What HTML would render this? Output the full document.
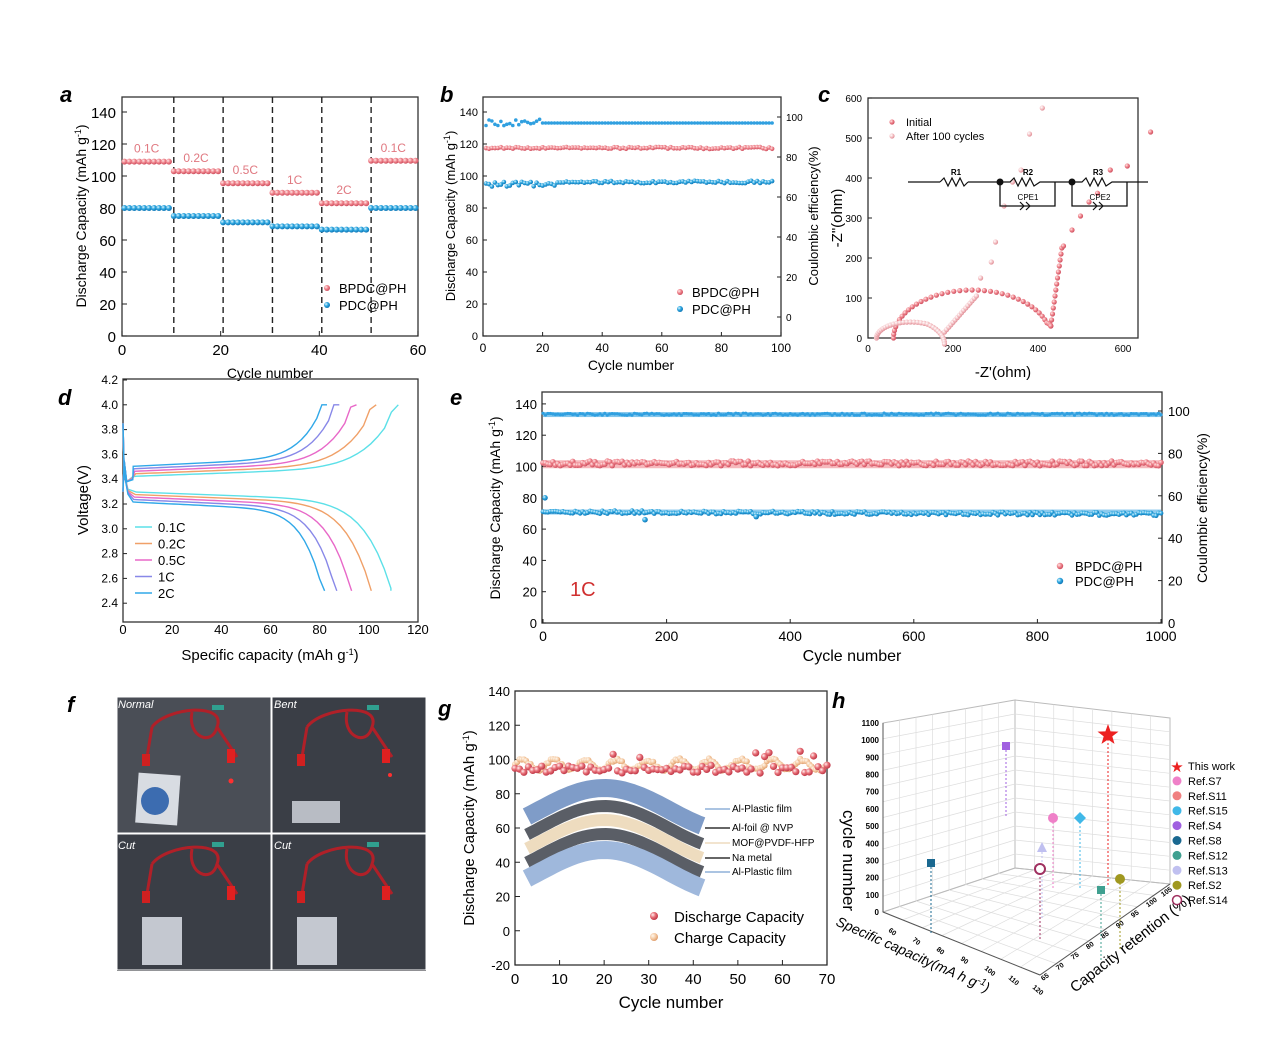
<!DOCTYPE html>
<html><head><meta charset="utf-8"><style>
html,body{margin:0;padding:0;background:#fff}
svg{display:block;font-family:"Liberation Sans",Arial,sans-serif}
</style></head><body>
<svg id="s" width="1272" height="1043" viewBox="0 0 1272 1043" xmlns="http://www.w3.org/2000/svg">
<defs>
<radialGradient id="gp" cx="35%" cy="35%" r="65%"><stop offset="0" stop-color="#ffe8e8"/><stop offset="0.5" stop-color="#f08890"/><stop offset="1" stop-color="#d05060"/></radialGradient>
<radialGradient id="gb" cx="35%" cy="35%" r="65%"><stop offset="0" stop-color="#e0f6ff"/><stop offset="0.5" stop-color="#30a8e0"/><stop offset="1" stop-color="#1078b8"/></radialGradient>
<radialGradient id="gr" cx="35%" cy="35%" r="65%"><stop offset="0" stop-color="#fff0f0"/><stop offset="0.5" stop-color="#e87078"/><stop offset="1" stop-color="#c03848"/></radialGradient>
<radialGradient id="go" cx="35%" cy="35%" r="65%"><stop offset="0" stop-color="#fff8ee"/><stop offset="0.6" stop-color="#f4c8a0"/><stop offset="1" stop-color="#e0a070"/></radialGradient>
<radialGradient id="gl" cx="35%" cy="35%" r="65%"><stop offset="0" stop-color="#fff"/><stop offset="0.6" stop-color="#f4c0c4"/><stop offset="1" stop-color="#e09098"/></radialGradient>
<radialGradient id="ph" cx="40%" cy="45%" r="70%"><stop offset="0" stop-color="#8a8f98"/><stop offset="0.6" stop-color="#3c4048"/><stop offset="1" stop-color="#202228"/></radialGradient>
</defs>
<g id="root"></g>
</svg>
<script>
const R=document.getElementById('root');let h='';
function t(x,y,s,sz,o){o=o||{};h+=`<text x="${x}" y="${y}" font-size="${sz}" ${o.a?`text-anchor="${o.a}"`:''} ${o.f?`fill="${o.f}"`:''} ${o.b?'font-weight="bold"':''} ${o.i?'font-style="italic"':''} ${o.r?`transform="rotate(${o.r} ${x} ${y})"`:''}>${s}</text>`;}
function L(x1,y1,x2,y2,c,w,d){h+=`<line x1="${x1}" y1="${y1}" x2="${x2}" y2="${y2}" stroke="${c||'#222'}" stroke-width="${w||1}" ${d?`stroke-dasharray="${d}"`:''}/>`;}
function box(x1,y1,x2,y2){h+=`<rect x="${x1}" y="${y1}" width="${x2-x1}" height="${y2-y1}" fill="none" stroke="#333" stroke-width="1.3"/>`;}
function c(x,y,r,f){h+=`<circle cx="${x.toFixed(1)}" cy="${y.toFixed(1)}" r="${r}" fill="${f}"/>`;}
function P(pts,col,w){h+=`<polyline points="${pts.map(p=>p[0].toFixed(1)+','+p[1].toFixed(1)).join(' ')}" fill="none" stroke="${col}" stroke-width="${w||1.5}"/>`;}
function rnd(i){let x=Math.sin(i*12.9898+7.1)*43758.5;return x-Math.floor(x);}
// ---------- a
box(122,97,418,336);
for(let v=0;v<=140;v+=20){let y=336-v*1.6;L(122,y,127,y);t(116,y+6,v,15,{a:'end'});}
for(let v=0;v<=60;v+=20){let x=122+v*4.933;L(x,336,x,331);t(x,355,v,15,{a:'middle'});}
t(270,378,'Cycle number',14,{a:'middle'});
t(86,216,'Discharge Capacity (mAh g<tspan dy="-5" font-size="9">-1</tspan><tspan dy="5">)</tspan>',14,{a:'middle',r:-90});
t(60,102,'a',22,{b:1,i:1});
[10.5,20.5,30.5,40.5,50.5].forEach(v=>{let x=122+v*4.933;L(x,97,x,336,'#222',1.4,'6,4');});
const A=[[1,10,109,80],[11,20,103,75],[21,30,95.5,71],[31,40,89.5,68.5],[41,50,83,66.5],[51,60,109.5,80]];
const lab=['0.1C','0.2C','0.5C','1C','2C','0.1C'];
A.forEach((s,k)=>{for(let i=s[0];i<=s[1];i++){let x=122+(i-0.5)*4.933;c(x,336-s[2]*1.6,3,'url(#gp)');c(x,336-s[3]*1.6,3,'url(#gb)');}
 t(122+((s[0]+s[1])/2-0.5)*4.933,336-s[2]*1.6-9,lab[k],12,{a:'middle',f:'#e07880'});});
c(327,288,3,'url(#gp)');t(339,293,'BPDC@PH',13);c(327,305,3,'url(#gb)');t(339,310,'PDC@PH',13);
// ---------- b
box(483,97,781,336);
for(let v=0;v<=140;v+=20){let y=336-v*1.6;L(483,y,487,y);t(478,y+4,v,11,{a:'end'});}
for(let v=0;v<=100;v+=20){let x=483+v*2.98;L(x,336,x,332);t(x,352,v,12,{a:'middle'});t(786,317-v*2+4,v,10);L(781,317-v*2,777,317-v*2);}
t(631,370,'Cycle number',14,{a:'middle'});
t(455,216,'Discharge Capacity (mAh g<tspan dy="-5" font-size="9">-1</tspan><tspan dy="5">)</tspan>',13,{a:'middle',r:-90});
t(818,216,'Coulombic efficiency(%)',13,{a:'middle',r:-90});
t(440,102,'b',22,{b:1,i:1});
for(let i=1;i<=97;i++){let x=483+i*2.98;c(x,336-117.5*1.6+(rnd(i)-.5)*2,2.3,'url(#gp)');let b=i<25?93+rnd(i+3)*4:95.5+rnd(i+5)*1.5;c(x,336-b*1.6,2.3,'url(#gb)');c(x,317-97*2+(i<20?(rnd(i+9)-.5)*8:0),1.8,'#30a0e0');}
c(680,292,3,'url(#gp)');t(692,297,'BPDC@PH',13);c(680,309,3,'url(#gb)');t(692,314,'PDC@PH',13);
// ---------- c
box(868,98,1138,338);
const cx=v=>868+v*0.425, cy=v=>338-v*0.4;
for(let v=0;v<=600;v+=100){L(868,cy(v),872,cy(v));t(862,cy(v)+4,v,10,{a:'end'});}
for(let v=0;v<=600;v+=200){t(cx(v),352,v,10,{a:'middle'});}
t(1003,377,"-Z'(ohm)",15,{a:'middle'});t(842,218,'-Z"(ohm)',15,{a:'middle',r:-90});
t(818,102,'c',22,{b:1,i:1});
for(let k=0;k<=40;k++){let a=Math.PI*k/40;let X=245-185*Math.cos(a),Y=120*Math.sin(a);if(k>30)Y=Math.max(Y,30+ (40-k)*2);c(cx(X),cy(Y),2.6,'url(#gp)');}
for(let k=0;k<14;k++){c(cx(430+k*2),cy(30+k*15),2.6,'url(#gp)');}
[[460,230],[480,270],[500,305],[520,340],[540,362],[570,420],[610,430],[665,515]].forEach(p=>c(cx(p[0]),cy(p[1]),2.6,'url(#gp)'));
for(let k=0;k<=30;k++){let a=Math.PI*k/30;c(cx(100-80*Math.cos(a)),cy(40*Math.sin(a)+ (k>20?(k-20)*-1.5:0)),2.6,'url(#gl)');}
for(let k=0;k<16;k++){c(cx(180+k*5),cy(15+k*6),2.6,'url(#gl)');}
[[265,150],[290,190],[300,240],[320,330],[340,390],[360,420],[380,510],[410,575]].forEach(p=>c(cx(p[0]),cy(p[1]),2.6,'url(#gl)'));
c(892,122,2.6,'url(#gp)');t(906,126,'Initial',11);c(892,136,2.6,'url(#gl)');t(906,140,'After 100 cycles',11);
L(908,182,940,182,'#111',1.3);P([[940,182],[944,178],[948,186],[952,178],[956,186],[960,178],[964,186],[968,182]],'#111',1.2);L(968,182,1000,182,'#111',1.3);
c(1000,182,3.5,'#111');P([[1000,182],[1010,182],[1014,178],[1018,186],[1022,178],[1026,186],[1030,178],[1034,186],[1040,182],[1055,182]],'#111',1.2);
h+=`<polyline points="1000,182 1000,206 1055,206 1055,182" fill="none" stroke="#111" stroke-width="1.3"/>`;
L(1055,182,1072,182,'#111',1.3);c(1072,182,3.5,'#111');
P([[1072,182],[1082,182],[1086,178],[1090,186],[1094,178],[1098,186],[1102,178],[1106,186],[1112,182],[1127,182]],'#111',1.2);
h+=`<polyline points="1072,182 1072,206 1127,206 1127,182" fill="none" stroke="#111" stroke-width="1.3"/>`;L(1127,182,1148,182,'#111',1.3);
t(956,175,'R1',8,{a:'middle',b:1});t(1028,175,'R2',8,{a:'middle',b:1});t(1098,175,'R3',8,{a:'middle',b:1});t(1028,200,'CPE1',8,{a:'middle'});t(1100,200,'CPE2',8,{a:'middle'});
P([[1020,202],[1024,206],[1020,210]],'#111',1.2);P([[1026,202],[1030,206],[1026,210]],'#111',1.2);P([[1093,202],[1097,206],[1093,210]],'#111',1.2);P([[1099,202],[1103,206],[1099,210]],'#111',1.2);
// ---------- d
box(123,379,418,622);
const dx=v=>123+v*2.458, dy=v=>380+(4.2-v)*124;
for(let v=2.4;v<=4.21;v+=0.2){L(123,dy(v),127,dy(v));t(118,dy(v)+4,v.toFixed(1),12,{a:'end'});}
for(let v=0;v<=120;v+=20){t(dx(v),634,v,13,{a:'middle'});}
t(270,660,'Specific capacity (mAh g<tspan dy="-5" font-size="9">-1</tspan><tspan dy="5">)</tspan>',15,{a:'middle'});
t(88,500,'Voltage(V)',15,{a:'middle',r:-90});t(58,405,'d',22,{b:1,i:1});
const cols=['#5ce0e8','#f0a068','#e868c8','#8888e8','#30a8e8'];const Q=[112,103,95,88,83];const Qd=[109,101,93,87,82];
cols.forEach((col,k)=>{let q=Q[k],pts=[[0,3.3],[0.5,3.55],[1.5,3.38],[4,3.42-k*0.006]];for(let f=0.05;f<=1.0001;f+=0.025){let x=q*f;let v=3.42+k*0.02+0.08*f+0.5*Math.pow(f,9);if(f>0.96)v+= (f-0.96)*3;pts.push([x,Math.min(4.0,v)]);}pts.push([q,4.0]);P(pts.map(p=>[dx(p[0]),dy(p[1])]),col,1.4);
 let qd=Qd[k],pd=[[0,3.85],[0.5,3.45],[2,3.32-k*0.01]];for(let f=0.05;f<=1.0001;f+=0.025){let v=3.3-k*0.02-0.08*f-0.7*Math.pow(f,10);pd.push([qd*f,Math.max(2.5,v)]);}pd.push([qd,2.5]);P(pd.map(p=>[dx(p[0]),dy(p[1])]),col,1.4);});
['0.1C','0.2C','0.5C','1C','2C'].forEach((s,k)=>{let y=527+k*16.5;L(135,y,152,y,cols[k],1.5);t(158,y+5,s,13);});
// ---------- e
box(542,392,1162,623);
const ex=v=>543+v*0.618, ey=v=>623-v*1.565, er=v=>623-v*2.12;
for(let v=0;v<=140;v+=20){L(542,ey(v),546,ey(v));t(537,ey(v)+5,v,13,{a:'end'});}
for(let v=0;v<=1000;v+=200){L(ex(v),623,ex(v),619);t(ex(v),641,v,14,{a:'middle'});}
for(let v=0;v<=100;v+=20){L(1162,er(v),1158,er(v));t(1168,er(v)+5,v,13);}
t(852,661,'Cycle number',16,{a:'middle'});t(500,508,'Discharge Capacity (mAh g<tspan dy="-5" font-size="9">-1</tspan><tspan dy="5">)</tspan>',14,{a:'middle',r:-90});
t(1207,508,'Coulombic efficiency(%)',14,{a:'middle',r:-90});t(450,405,'e',22,{b:1,i:1});
h+=`<rect x="543" y="${ey(104)}" width="618" height="8" fill="#f08890" opacity="0.6"/>`;
h+=`<rect x="543" y="${ey(72.5)}" width="618" height="5" fill="#30a0e0" opacity="0.55"/>`;
h+=`<rect x="543" y="${er(99.5)}" width="618" height="5" fill="#30a0e0" opacity="0.6"/>`;
for(let i=0;i<=1000;i+=4){let x=ex(i);c(x,ey(102+(rnd(i)-.5)*3),2.8,'url(#gp)');c(x,ey(71-i*0.0015+(rnd(i+1)-.5)*2),2.4,'url(#gb)');}
for(let i=0;i<=1000;i+=4){c(ex(i),er(98.5+(rnd(i+2)-.5)*1),1.6,'#30a0e0');}
c(545,ey(80),2.8,'url(#gb)');c(ex(165),ey(66),2.8,'url(#gb)');c(ex(345),ey(68),2.8,'url(#gb)');
c(1060,566,3.2,'url(#gp)');t(1075,571,'BPDC@PH',13);c(1060,581,3.2,'url(#gb)');t(1075,586,'PDC@PH',13);
t(570,596,'1C',20,{f:'#d03030'});
// ---------- f
h+=`<rect x="117" y="697" width="309" height="274" fill="url(#ph)"/>`;
[[117,697],[272,697],[117,834],[272,834]].forEach((p,k)=>{let x=p[0],y=p[1];h+=`<rect x="${x}" y="${y}" width="154" height="136" fill="${k==0?'#4a4e56':'#3a3e46'}" stroke="#fff" stroke-width="1"/>`;
 h+=`<path d="M${x+35} ${y+30} C${x+50} ${y+10} ${x+110} ${y+5} ${x+100} ${y+30} C${x+95} ${y+50} ${x+70} ${y+40} ${x+75} ${y+15} M${x+35} ${y+30} L${x+30} ${y+60} M${x+100} ${y+30} L${x+120} ${y+60}" fill="none" stroke="#b02028" stroke-width="3"/>`;
 h+=`<rect x="${x+95}" y="${y+8}" width="12" height="5" fill="#30a090"/><rect x="${x+110}" y="${y+52}" width="8" height="14" fill="#e02020"/><rect x="${x+25}" y="${y+57}" width="8" height="12" fill="#d02020"/>`;
 if(k==0){h+=`<rect x="${x+20}" y="${y+77}" width="42" height="50" fill="#d8dce2" transform="rotate(4 ${x+40} ${y+100})"/><circle cx="${x+38}" cy="${y+104}" r="14" fill="#3c6cb0"/><circle cx="${x+114}" cy="${y+84}" r="2.5" fill="#ff3030"/>`;}
 else if(k==1){h+=`<rect x="${x+20}" y="${y+104}" width="48" height="22" fill="#b8bcc4"/><circle cx="${x+118}" cy="${y+78}" r="2" fill="#ff3030"/>`;}
 else{h+=`<rect x="${x+25}" y="${y+83}" width="40" height="48" fill="#c4c8d0"/>`;}
});
t(118,708,'Normal',11,{i:1,f:'#fff'});t(274,708,'Bent',11,{i:1,f:'#fff'});t(118,849,'Cut',11,{i:1,f:'#fff'});t(274,849,'Cut',11,{i:1,f:'#fff'});
t(67,712,'f',22,{b:1,i:1});
// ---------- g
box(515,691,827,965);
const gx=v=>515+v*4.457, gy=v=>965-(v+20)*1.7125;
for(let v=-20;v<=140;v+=20){L(515,gy(v),520,gy(v));t(510,gy(v)+5,v,13,{a:'end'});}
for(let v=0;v<=70;v+=10){L(gx(v),965,gx(v),960);t(gx(v),984,v,15,{a:'middle'});}
t(671,1008,'Cycle number',17,{a:'middle'});t(474,828,'Discharge Capacity (mAh g<tspan dy="-5" font-size="9">-1</tspan><tspan dy="5">)</tspan>',15,{a:'middle',r:-90});
t(438,716,'g',22,{b:1,i:1});
for(let i=0;i<=140;i++){let x=gx(i*0.5);c(x,gy(97+3*Math.sin(i*0.45)+(rnd(i)-.5)*2),3,'url(#go)');}
for(let i=0;i<=70;i++){let v=rnd(i+20)>0.8?101+rnd(i)*6:92+rnd(i+4)*5;c(gx(i),gy(v),3.6,'url(#gr)');}
const wave=(o)=>{let s='';for(let k=0;k<=40;k++){let u=k/40;let X=527+u*175,Y=o-22*Math.sin(u*Math.PI*1.35-0.3);s+=(k?'L':'M')+X.toFixed(1)+' '+Y.toFixed(1);}return s;};
[[810,'#7f9cc8',18],[828,'#5a5e66',12],[842,'#eedcbf',12],[856,'#5a5e66',12],[872,'#9fb8dc',18]].forEach(l=>{h+=`<path d="${wave(l[0])}" fill="none" stroke="${l[1]}" stroke-width="${l[2]}"/>`;});
[['Al-Plastic film',812],['Al-foil @ NVP',831],['MOF@PVDF-HFP',846],['Na metal',861],['Al-Plastic film',875]].forEach((p,k)=>{L(705,p[1]-3,730,p[1]-3,['#8fb0d8','#333','#eedcbf','#333','#8fb0d8'][k],1.5);t(732,p[1],p[0],10);});
c(654,916,4,'url(#gr)');t(674,922,'Discharge Capacity',15);c(654,937,4,'url(#go)');t(674,943,'Charge Capacity',15);
// ---------- h
t(832,708,'h',22,{b:1,i:1});
const g3='#ddd';
h+=`<polygon points="883,723 1015,700 1015,868 883,912" fill="none" stroke="#bbb"/>`;
h+=`<polygon points="1015,700 1170,718 1170,884 1015,868" fill="none" stroke="#bbb"/>`;
h+=`<polygon points="883,912 1015,868 1170,884 1040,975" fill="none" stroke="#bbb"/>`;
for(let k=1;k<12;k++){let f=k/12;L(883,912-f*189,1015,868-f*168,g3,0.7);L(1015,868-f*168,1170,884-f*166,g3,0.7);}
for(let k=1;k<8;k++){let f=k/8;L(883+f*132,912-f*44,883+f*132,723-f*23,g3,0.7);L(1015+f*155,700+f*18,1015+f*155,868+f*16,g3,0.7);L(883+f*157,912+f*63,1015+f*155,868+f*16,g3,0.7);L(883+f*132,912-f*44,1040+f*130,975-f*91,g3,0.7);}
L(883,723,883,912,'#555');L(883,912,1040,975,'#555');L(1040,975,1170,884,'#555');
for(let v=0;v<=1100;v+=100){let y=912-v*0.1718;t(879,y+3,v,8,{a:'end',b:1});}
[60,70,80,90,100,110,120].forEach((v,k)=>t(888+k*24,931+k*9.5,v,7,{b:1,r:40}));
[65,70,75,80,85,90,95,100,105].forEach((v,k)=>t(1043+k*15,981-k*10.5,v,7,{b:1,r:-35}));
t(843,810,'cycle number',17,{r:90});t(835,925,'Specific capacity(mA h g<tspan dy="-5" font-size="10">-1</tspan><tspan dy="5">)</tspan>',14,{i:1,r:24});
t(1075,993,'Capacity retention (%)',15,{r:-38});
const M=[[1108,735,'#ec2020','star'],[1053,818,'#ef80c8','c'],[1080,818,'#40b8e8','d'],[1006,746,'#a060e0','s'],[931,863,'#1a6890','s'],[1101,890,'#40a090','sv'],[1042,848,'#c0c0f0','t'],[1120,879,'#a09820','c'],[1040,869,'#a03060','o']];
M.forEach(m=>{L(m[0],m[1],m[0],m[1]+ (m[2]=='#ec2020'?150:70),m[2],1,'2,2');});
M.forEach(m=>{let[x,y,f,s]=m;if(s=='star'){let p=[];for(let k=0;k<10;k++){let r=k%2?4.5:11,a=-Math.PI/2+k*Math.PI/5;p.push((x+r*Math.cos(a)).toFixed(1)+','+(y+r*Math.sin(a)).toFixed(1));}h+=`<polygon points="${p.join(' ')}" fill="${f}"/>`;}
 else if(s=='c')c(x,y,5,f);else if(s=='d')h+=`<polygon points="${x},${y-6} ${x+6},${y} ${x},${y+6} ${x-6},${y}" fill="${f}"/>`;
 else if(s=='s'||s=='sv')h+=`<rect x="${x-4}" y="${y-4}" width="8" height="8" fill="${f}"/>`;else if(s=='t')h+=`<polygon points="${x},${y-6} ${x+5},${y+4} ${x-5},${y+4}" fill="${f}"/>`;
 else h+=`<circle cx="${x}" cy="${y}" r="5" fill="#fff" stroke="${f}" stroke-width="2"/>`;});
const LG=[['This work','#ec2020'],['Ref.S7','#ef80c8'],['Ref.S11','#f08080'],['Ref.S15','#40b8e8'],['Ref.S4','#a060e0'],['Ref.S8','#1a6890'],['Ref.S12','#40a090'],['Ref.S13','#c0c0f0'],['Ref.S2','#a09820'],['Ref.S14','#a03060']];
LG.forEach((l,k)=>{let y=766+k*14.9;if(k==0)t(1177,y+6,'★',15,{a:'middle',f:l[1]});else if(k==9)h+=`<circle cx="1177" cy="${y}" r="4.5" fill="#fff" stroke="${l[1]}" stroke-width="1.5"/>`;else c(1177,y,4.5,l[1]);t(1188,y+4,l[0],11);});
R.innerHTML=h;
</script>
</body></html>
